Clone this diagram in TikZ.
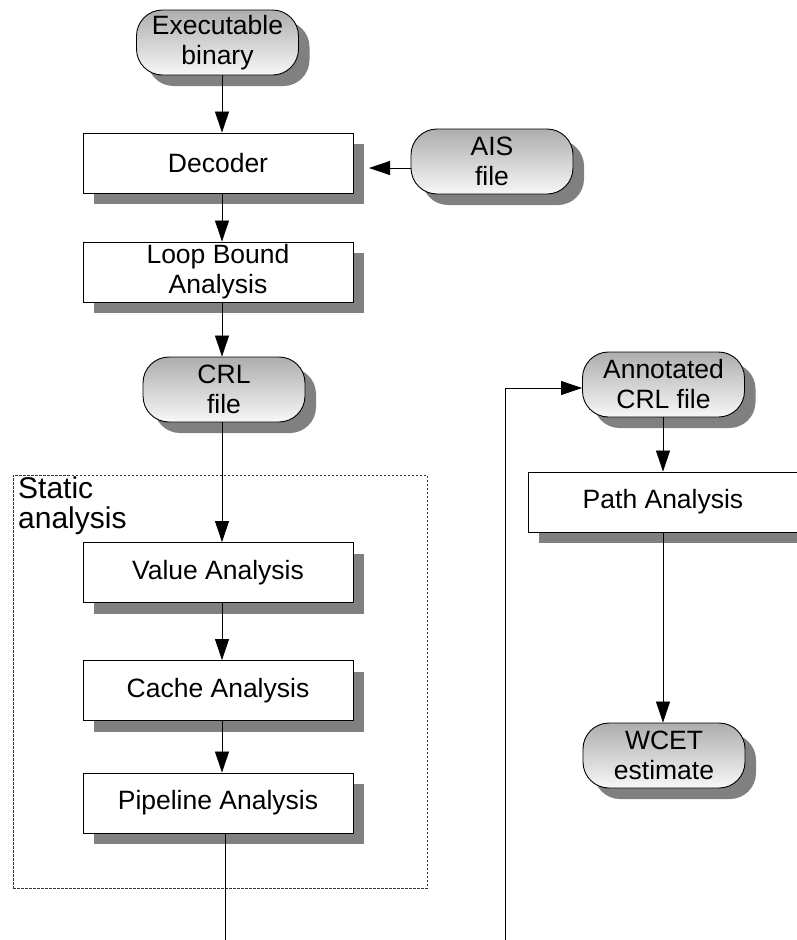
\documentclass[tikz,border=0pt]{standalone}
\usepackage{fontspec}
\setmainfont{Liberation Sans}
\usetikzlibrary{arrows.meta,shadows}

\begin{document}
\begin{tikzpicture}[x=1pt,y=-1pt,
  font=\fontsize{26.5}{30}\selectfont,
  boxshadow/.style={drop shadow={shadow xshift=11pt, shadow yshift=-11pt, fill=black!50, opacity=1}},
  flowbox/.style={draw, line width=0.9pt, fill=white, minimum width=270pt,
    minimum height=60pt, align=center, inner sep=0pt, boxshadow},
  term/.style={draw, line width=0.9pt, rounded corners=26pt, top color=black!32,
    bottom color=black!3, minimum width=162pt, minimum height=65pt,
    align=center, inner sep=0pt, boxshadow},
  flow/.style={line width=0.8pt, -{Triangle[length=21pt,width=14pt]}},
  plainline/.style={line width=0.8pt},
  groupbox/.style={draw, line width=0.9pt, dash pattern=on 2.5pt off 1.5pt,
    black!80, minimum width=414pt, minimum height=413pt, inner sep=0pt}
]
\useasboundingbox (0,0) rectangle (797,940);

% group frame for the static analysis stages
\node[groupbox] (staticbox) at (220,681.5) {};
\node[anchor=north west, inner sep=0pt, align=left,
  font=\fontsize{30}{30}\selectfont] (statictitle) at (18,477) {Static\\analysis};

% main column
\node[term]    (exe)   at (217.5,42.5) {Executable\\binary};
\node[flowbox] (dec)   at (218,163)    {Decoder};
\node[term]    (ais)   at (492,161.5)  {AIS\\file};
\node[flowbox] (loop)  at (218,272)    {Loop Bound\\Analysis};
\node[term]    (crl)   at (224,389.5)  {CRL\\file};
\node[flowbox] (value) at (218,572.5)  {Value Analysis};
\node[flowbox] (cache) at (218,690.5)  {Cache Analysis};
\node[flowbox] (pipe)  at (218,803)    {Pipeline Analysis};

% right column
\node[term]    (ann)   at (663.5,384.5) {Annotated\\CRL file};
\node[flowbox] (path)  at (663,502)     {Path Analysis};
\node[term]    (wcet)  at (664,755.5)   {WCET\\estimate};

% connector helpers
\coordinate (colx) at (222,0);
\coordinate (aisTip) at (369,168);
\coordinate (pipeEnd) at (225,940);
\coordinate (fbStart) at (505,940);
\coordinate (fbTurn) at (505,388);
\coordinate (rcolx) at (663,0);

\draw[flow] (exe.south -| colx) -- (dec.north -| colx);
\draw[flow] (ais.west |- aisTip) -- (aisTip);
\draw[flow] (dec.south -| colx) -- (loop.north -| colx);
\draw[flow] (loop.south -| colx) -- (crl.north -| colx);
\draw[flow] (crl.south -| colx) -- (value.north -| colx);
\draw[flow] (value.south -| colx) -- (cache.north -| colx);
\draw[flow] (cache.south -| colx) -- (pipe.north -| colx);
\draw[plainline] (pipe.south -| pipeEnd) -- (pipeEnd);

\draw[flow] (fbStart) -- (fbTurn) -- (ann.west |- fbTurn);
\draw[flow] (ann.south -| rcolx) -- (path.north -| rcolx);
\draw[flow] (path.south -| rcolx) -- (wcet.north -| rcolx);
\end{tikzpicture}
\end{document}
